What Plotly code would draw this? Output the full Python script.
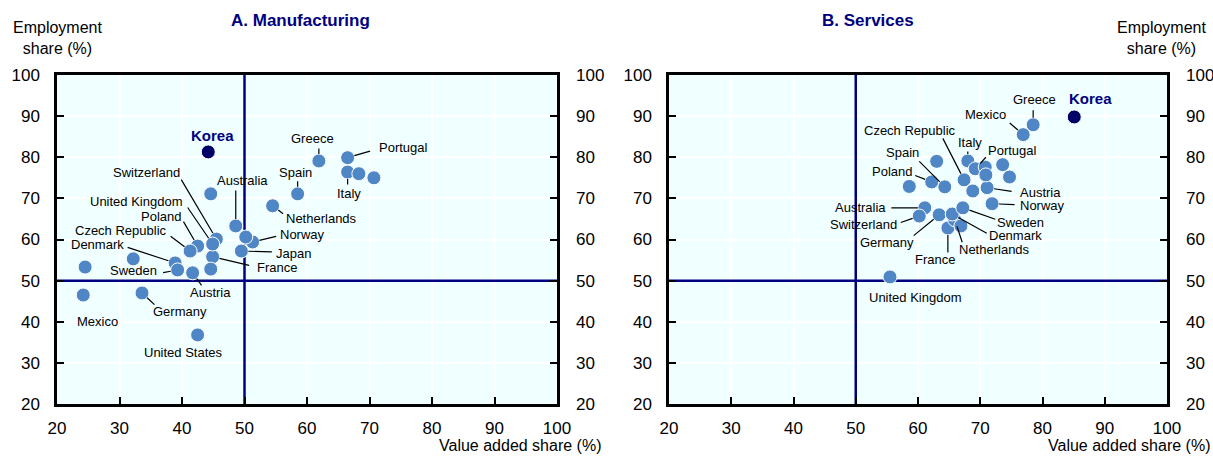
import plotly.graph_objects as go

# ---------------- DATA ----------------
# Panel A: Manufacturing (value added share %, employment share %)
mfg_countries = ["Greece", "Portugal", "Italy", "Spain", "Netherlands", "Australia",
                 "Norway", "Japan", "France", "Switzerland", "United Kingdom", "Poland",
                 "Czech Republic", "Denmark", "Sweden", "Austria", "Mexico", "Germany",
                 "United States", "", "", "", "", "", "", ""]
mfg_value_added = [61.9, 66.5, 66.5, 58.5, 54.5, 48.6, 51.3, 49.5, 44.9, 45.5, 44.9, 42.5,
                   41.3, 38.9, 39.3, 41.7, 24.2, 33.6, 42.5, 44.6, 44.6, 32.2, 24.5, 68.3,
                   70.7, 50.2]
mfg_employment = [79.1, 79.9, 76.4, 71.1, 68.2, 63.3, 59.4, 57.2, 55.8, 60.1, 58.9, 58.4,
                  57.2, 54.3, 52.6, 51.9, 46.5, 47.0, 36.8, 71.1, 52.8, 55.3, 53.3, 76.0,
                  75.0, 60.6]
mfg_korea = [44.2, 81.3]

# Panel B: Services
svc_countries = ["Greece", "Mexico", "Czech Republic", "Italy", "Portugal", "Spain", "Poland",
                 "Austria", "Norway", "Australia", "Switzerland", "Germany", "France",
                 "Netherlands", "Denmark", "Sweden", "United Kingdom",
                 "", "", "", "", "", "", "", ""]
svc_value_added = [78.5, 76.9, 67.4, 68.0, 69.2, 64.3, 62.2, 71.1, 71.9, 61.1, 60.2, 63.4,
                   64.8, 65.9, 65.5, 67.2, 55.5, 70.8, 73.6, 74.7, 70.9, 68.8, 63.0, 58.6,
                   66.9]
svc_employment = [87.9, 85.5, 74.5, 79.1, 77.2, 72.8, 74.0, 72.6, 68.7, 67.7, 65.7, 66.0,
                  62.8, 64.8, 66.2, 67.7, 50.9, 77.6, 78.2, 75.2, 75.7, 71.8, 79.0, 72.9,
                  63.3]
svc_korea = [85.1, 89.8]

axis_ticks = [20, 30, 40, 50, 60, 70, 80, 90, 100]
ref_value = 50

# ---------------- LABEL PLACEMENT (pixel offsets from the point) ----------------
# name: (text dx, text dy, line tail dx, line tail dy or None)
mfg_label_pos = {
    "Greece": (-6, -22, 0, -14),
    "Portugal": (56, -10, 24, -7),
    "Italy": (1, 21, 0, 14),
    "Spain": (-2, -21, 0, -14),
    "Netherlands": (49, 13, 12, 9),
    "Australia": (7, -45, 0, -37),
    "Norway": (50, -7, 25, -6),
    "Japan": (52, 2, 32, 1),
    "France": (64, 11, 38, 9),
    "Switzerland": (-70, -67, -36, -61),
    "United Kingdom": (-76, -43, -26, -38),
    "Poland": (-37, -30, -15, -26),
    "Czech Republic": (-69, -21, -21, -16),
    "Denmark": (-78, -18, -49, -16),
    "Sweden": (-44, 1, -16, 3),
    "Austria": (18, 20, 10, 14),
    "Mexico": (14, 26, None, None),
    "Germany": (38, 19, 14, 13),
    "United States": (-14, 18, None, None),
}
svc_label_pos = {
    "Greece": (1, -25, 0, -16),
    "Mexico": (-38, -20, -15, -13),
    "Czech Republic": (-54, -49, -22, -43),
    "Italy": (2, -18, 0, -11),
    "Portugal": (37, -18, 12, -13),
    "Spain": (-42, -34, -27, -27),
    "Poland": (-40, -10, -18, -7),
    "Austria": (53, 5, 26, 4),
    "Norway": (50, 2, 24, 1),
    "Australia": (-64, 0, -35, 0),
    "Switzerland": (-56, 8, -20, 7),
    "Germany": (-52, 28, -27, 22),
    "France": (-13, 32, 0, 26),
    "Netherlands": (40, 30, 8, 24),
    "Denmark": (63, 21, 36, 20),
    "Sweden": (58, 15, 34, 12),
    "United Kingdom": (26, 21, None, None),
}

# ---------------- STYLE ----------------
W, H = 1213, 457
FONT = "Arial, Liberation Sans, Helvetica, sans-serif"
NAVY = "#000080"
DOT = "#4F86C6"
KOREA = "#000066"
BG = "#F0FFFF"

def px_x(p):
    return p / W

def px_y(p):
    return 1 - p / H

dom_y = [px_y(404), px_y(75)]
dom_x1 = [px_x(57), px_x(557)]
dom_x2 = [px_x(669), px_x(1167)]

fig = go.Figure()

panels = [
    ("x", "y", mfg_countries, mfg_value_added, mfg_employment, mfg_korea, mfg_label_pos),
    ("x2", "y2", svc_countries, svc_value_added, svc_employment, svc_korea, svc_label_pos),
]

annotations = []
shapes = []
for xa, ya, names, xs, ys, korea, pos in panels:
    fig.add_trace(go.Scatter(
        x=xs, y=ys, mode="markers", xaxis=xa, yaxis=ya,
        marker=dict(size=14, color=DOT, line=dict(color="white", width=1)),
        hoverinfo="text", text=[n for n in names], showlegend=False))
    fig.add_trace(go.Scatter(
        x=[korea[0]], y=[korea[1]], mode="markers", xaxis=xa, yaxis=ya,
        marker=dict(size=14, color=KOREA, line=dict(color="white", width=1)),
        hoverinfo="text", text=["Korea"], showlegend=False))
    # Korea label
    annotations.append(dict(x=korea[0], y=korea[1], xref=xa, yref=ya, text="<b>Korea</b>",
                            showarrow=False, xshift=4 if xa == "x" else 16,
                            yshift=16 if xa == "x" else 18,
                            font=dict(family=FONT, size=15, color=NAVY)))
    for n, xv, yv in zip(names, xs, ys):
        if n not in pos:
            continue
        tdx, tdy, ldx, ldy = pos[n]
        annotations.append(dict(x=xv, y=yv, xref=xa, yref=ya, text=n, showarrow=False,
                                xshift=tdx, yshift=-tdy,
                                font=dict(family=FONT, size=13, color="black")))
        if ldx is not None:
            annotations.append(dict(x=xv, y=yv, xref=xa, yref=ya, text="", showarrow=True,
                                    ax=ldx, ay=ldy, arrowhead=0, arrowwidth=1.2,
                                    arrowcolor="black", standoff=7))
    # reference lines
    shapes.append(dict(type="line", xref=xa, yref=ya, x0=ref_value, x1=ref_value,
                       y0=axis_ticks[0], y1=axis_ticks[-1],
                       line=dict(color=NAVY, width=2.5), layer="between"))
    shapes.append(dict(type="line", xref=xa, yref=ya, y0=ref_value, y1=ref_value,
                       x0=axis_ticks[0], x1=axis_ticks[-1],
                       line=dict(color=NAVY, width=2.5), layer="between"))

# dummy traces for right-hand y axes
fig.add_trace(go.Scatter(x=[], y=[], xaxis="x", yaxis="y3", showlegend=False))
fig.add_trace(go.Scatter(x=[], y=[], xaxis="x2", yaxis="y4", showlegend=False))

tickfont = dict(family=FONT, size=17, color="black")
xcommon = dict(range=[20, 100], tickvals=axis_ticks, showgrid=True, gridcolor="white",
               gridwidth=2, showline=True, linecolor="black", linewidth=2.5, mirror=True,
               ticks="inside", ticklen=7, tickwidth=2, tickcolor="black", zeroline=False,
               tickfont=tickfont, ticklabelstandoff=7, fixedrange=True, automargin=False)
ycommon = dict(range=[20, 100], tickvals=axis_ticks, showgrid=True, gridcolor="white",
               gridwidth=2, showline=True, linecolor="black", linewidth=2.5, mirror=True,
               ticks="inside", ticklen=7, tickwidth=2, tickcolor="black", zeroline=False,
               tickfont=tickfont, ticklabelstandoff=11, fixedrange=True, domain=dom_y,
               automargin=False)
yright = dict(range=[20, 100], tickvals=axis_ticks, showgrid=False, showline=False,
              ticks="inside", ticklen=7, tickwidth=2, tickcolor="black", zeroline=False,
              tickfont=tickfont, ticklabelstandoff=18, fixedrange=True, side="right",
              automargin=False)

def paper_text(x, y, text, size, color="black", xanchor="center", bold=False):
    return dict(xref="paper", yref="paper", x=px_x(x), y=px_y(y), xanchor=xanchor,
                yanchor="middle", text=f"<b>{text}</b>" if bold else text,
                showarrow=False, align="center",
                font=dict(family=FONT, size=size, color=color))

# text annotations: titles and axis titles
annotations += [
    paper_text(300, 20, "A. Manufacturing", 17, NAVY, bold=True),
    paper_text(868, 20, "B. Services", 17, NAVY, bold=True),
    paper_text(57, 38, "Employment<br>share (%)", 16),
    paper_text(1208, 38, "Employment<br>share (%)", 16, xanchor="right"),
    paper_text(603, 445, "Value added share (%)", 16, xanchor="right"),
    paper_text(1212, 445, "Value added share (%)", 16, xanchor="right"),
]

fig.update_layout(
    width=W, height=H,
    margin=dict(l=0, r=0, t=0, b=0, autoexpand=False),
    paper_bgcolor="white", plot_bgcolor=BG,
    showlegend=False,
    font=dict(family=FONT, color="black"),
    xaxis=dict(xcommon, domain=dom_x1, anchor="y"),
    xaxis2=dict(xcommon, domain=dom_x2, anchor="y2"),
    yaxis=dict(ycommon, anchor="x"),
    yaxis2=dict(ycommon, anchor="x2"),
    yaxis3=dict(yright, overlaying="y", anchor="x"),
    yaxis4=dict(yright, overlaying="y2", anchor="x2"),
    annotations=annotations,
    shapes=shapes,
)

fig.write_html(
    "out.html",
    config={"displayModeBar": False},
    post_script="document.body.style.margin='0';document.body.style.overflow='hidden';",
)
